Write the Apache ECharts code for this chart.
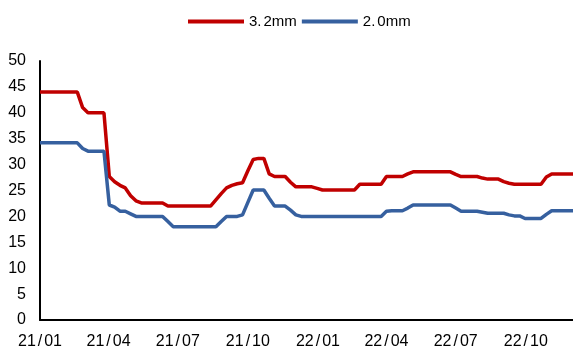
<!DOCTYPE html>
<html>
<head>
<meta charset="utf-8">
<script src="https://cdn.jsdelivr.net/npm/echarts@6/dist/echarts.min.js"></script>
<style>
  html, body { margin: 0; padding: 0; background: #fff; }
  #chart { width: 573px; height: 352px; }
</style>
</head>
<body>
<div id="chart"></div>
<script>
// Weekly price series, starting 2021-01-01
const startDate = '2021-01-01';
const weekCount = 101;

const price32 = [
  44, 44, 44, 44, 44, 44, 44, 44, 41, 40, 40, 40, 40,
  27.7, 26.7, 26, 25.5, 24, 23, 22.6, 22.6, 22.6, 22.6, 22.6,
  22, 22, 22, 22, 22, 22, 22, 22, 22,
  23.2, 24.4, 25.5, 26, 26.3, 26.5, 28.8, 31, 31.2, 31.2, 28.2,
  27.7, 27.7, 27.7, 26.6, 25.7, 25.7, 25.7, 25.7, 25.4,
  25.1, 25.1, 25.1, 25.1, 25.1, 25.1, 25.1,
  26.2, 26.2, 26.2, 26.2, 26.2, 27.7, 27.7, 27.7, 27.7, 28.2,
  28.6, 28.6, 28.6, 28.6, 28.6, 28.6, 28.6, 28.6, 28.1,
  27.7, 27.7, 27.7, 27.7, 27.4, 27.2, 27.2, 27.2, 26.7, 26.4,
  26.2, 26.2, 26.2, 26.2, 26.2, 26.2, 27.6,
  28.2, 28.2, 28.2, 28.2, 28.2
];

const price20 = [
  34.2, 34.2, 34.2, 34.2, 34.2, 34.2, 34.2, 34.2, 33.1, 32.6, 32.6, 32.6, 32.6,
  22.2, 21.8, 21, 21, 20.5, 20, 20, 20, 20, 20, 20,
  19, 18, 18, 18, 18, 18, 18, 18, 18, 18,
  19, 20, 20, 20, 20.3, 22.7, 25.1, 25.1, 25.1, 23.5,
  22, 22, 22, 21.2, 20.3,
  20, 20, 20, 20, 20, 20, 20, 20, 20, 20, 20, 20, 20, 20, 20, 20,
  21, 21.1, 21.1, 21.1, 21.6,
  22.2, 22.2, 22.2, 22.2, 22.2, 22.2, 22.2, 22.2, 21.6,
  21, 21, 21, 21, 20.8, 20.6, 20.6, 20.6, 20.6, 20.3,
  20.1, 20.1, 19.6, 19.6, 19.6, 19.6, 20.4,
  21.1, 21.1, 21.1, 21.1, 21.1
];

const seriesNames = ['3.2mm', '2.0mm'];
const seriesColors = ['#C00000', '#36609F'];
const tickDates = ['2021-01-01', '2021-04-01', '2021-07-01', '2021-10-01',
                   '2022-01-01', '2022-04-01', '2022-07-01', '2022-10-01'];
const tickLabels = ['21/01', '21/04', '21/07', '21/10', '22/01', '22/04', '22/07', '22/10'];
const yTicks = { min: 0, max: 50, step: 5 };

const DAY = 86400000;
const t0 = Date.parse(startDate);
const dayOf = (s) => Math.round((Date.parse(s) - t0) / DAY);
const weekDays = Array.from({ length: weekCount }, (_, i) => i * 7);
const tickDays = tickDates.map(dayOf);
const labelByDay = {};
tickDays.forEach((d, i) => { labelByDay[d] = tickLabels[i]; });

const font = 'Liberation Sans';
// wider separators, as in the typeset date and size labels
const spaced = (s, ch) => s.split(ch).map((p) => '{d|' + p + '}').join('{s|' + ch + '}');

const chart = echarts.init(document.getElementById('chart'));
chart.setOption({
  animation: false,
  backgroundColor: '#ffffff',
  legend: {
    top: 9,
    left: 183,
    icon: 'rect',
    itemWidth: 56,
    itemHeight: 4,
    itemGap: 5,
    data: seriesNames,
    formatter: (name) => spaced(name, '.'),
    textStyle: {
      fontFamily: font, fontSize: 15, color: '#000',
      rich: {
        d: { fontFamily: font, fontSize: 15, color: '#000' },
        s: { fontFamily: font, fontSize: 15, color: '#000', padding: [0, 2, 0, 0] }
      }
    }
  },
  grid: { left: 40, right: 0, top: 61, bottom: 32 },
  xAxis: {
    type: 'value',
    min: 0,
    max: 700,
    axisLine: { show: true, lineStyle: { color: '#000', width: 2 } },
    axisTick: { show: false },
    splitLine: { show: false },
    axisLabel: {
      customValues: tickDays,
      formatter: (v) => spaced(labelByDay[Math.round(v)] || '', '/'),
      fontFamily: font,
      fontSize: 16,
      color: '#000',
      margin: 14,
      rich: {
        d: { fontFamily: font, fontSize: 16, color: '#000' },
        s: { fontFamily: font, fontSize: 16, color: '#000', padding: [0, 2] }
      }
    }
  },
  yAxis: {
    type: 'value',
    min: yTicks.min,
    max: yTicks.max,
    interval: yTicks.step,
    axisLine: { show: true, lineStyle: { color: '#000', width: 2 } },
    axisTick: { show: false },
    splitLine: { show: false },
    axisLabel: { fontFamily: font, fontSize: 16, color: '#000', margin: 14 }
  },
  series: [0, 1].map((k) => ({
    name: seriesNames[k],
    type: 'line',
    symbol: 'none',
    data: weekDays.map((d, i) => [d, (k === 0 ? price32 : price20)[i]]),
    lineStyle: { color: seriesColors[k], width: 3.5 },
    itemStyle: { color: seriesColors[k] }
  }))
});
</script>
</body>
</html>
